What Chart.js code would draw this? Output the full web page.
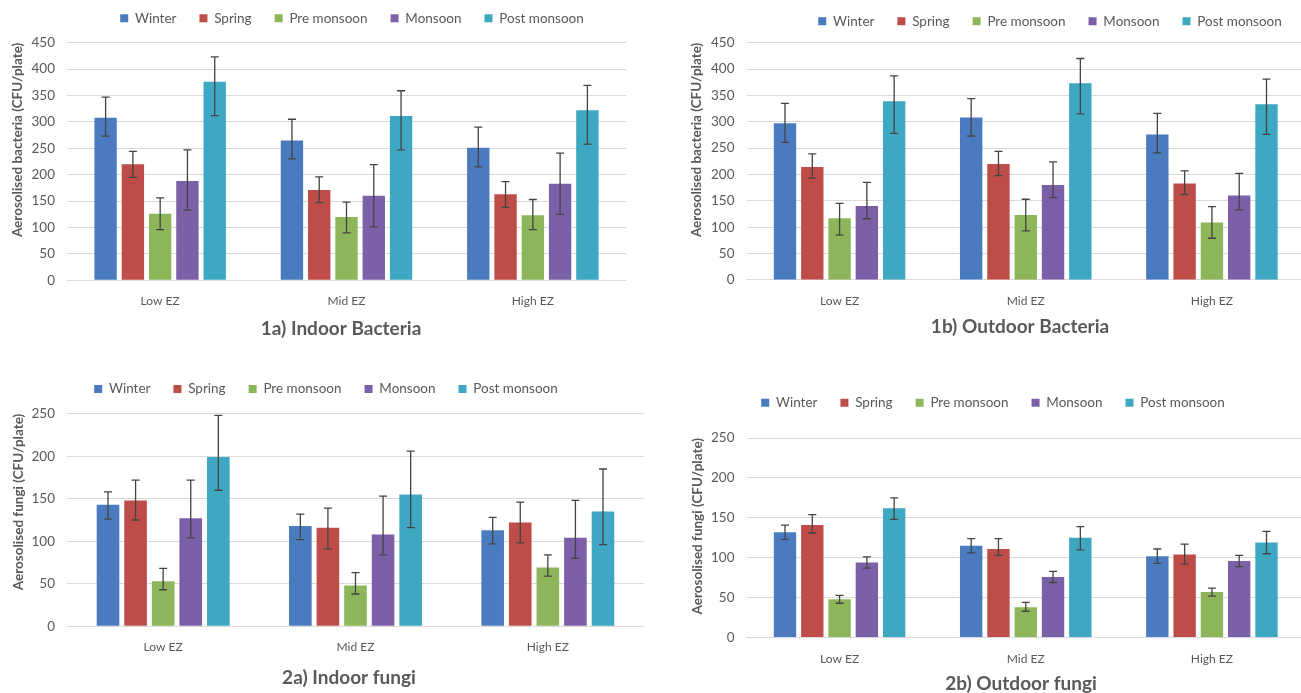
<!DOCTYPE html>
<html>
<head>
<meta charset="utf-8">
<script src="https://cdn.jsdelivr.net/npm/chart.js@4.4.0/dist/chart.umd.min.js"></script>
<style>
  html, body { margin: 0; padding: 0; background: #fff; }
  body { width: 1301px; height: 693px; overflow: hidden; position: relative; }
  canvas { position: absolute; }
</style>
</head>
<body>
<canvas id="c1a"></canvas>
<canvas id="c1b"></canvas>
<canvas id="c2a"></canvas>
<canvas id="c2b"></canvas>
<script>
// categories / series
const zones = ['Low EZ', 'Mid EZ', 'High EZ'];
const seasons = ['Winter', 'Spring', 'Pre monsoon', 'Monsoon', 'Post monsoon'];

// tick labels
const bacteriaTicks = [0, 50, 100, 150, 200, 250, 300, 350, 400, 450];
const fungiTicks = [0, 50, 100, 150, 200, 250];

// 1a) Indoor bacteria - one row per season, columns Low/Mid/High EZ
const indoorBacteria = [[308, 265, 251], [220, 171, 163], [126, 120, 123], [188, 160, 183], [376, 311, 322]];
const indoorBacteriaErrUp = [[39, 40, 39], [24, 25, 24], [30, 28, 30], [59, 59, 58], [47, 48, 47]];
const indoorBacteriaErrDown = [[35, 35, 36], [25, 24, 25], [30, 30, 27], [55, 59, 58], [64, 64, 64]];

// 1b) Outdoor bacteria
const outdoorBacteria = [[297, 308, 276], [214, 220, 183], [117, 123, 109], [140, 180, 160], [339, 373, 333]];
const outdoorBacteriaErrUp = [[38, 36, 40], [25, 24, 24], [28, 30, 30], [45, 44, 42], [48, 47, 48]];
const outdoorBacteriaErrDown = [[36, 35, 35], [21, 22, 21], [32, 30, 30], [24, 24, 27], [61, 58, 57]];

// 2a) Indoor fungi
const indoorFungi = [[143, 118, 113], [148, 116, 122], [53, 48, 69], [127, 108, 104], [199, 155, 135]];
const indoorFungiErrUp = [[15, 14, 15], [24, 23, 24], [15, 15, 15], [45, 45, 44], [49, 51, 50]];
const indoorFungiErrDown = [[17, 16, 16], [23, 25, 24], [10, 10, 10], [23, 24, 24], [39, 39, 39]];

// 2b) Outdoor fungi
const outdoorFungi = [[132, 115, 102], [141, 111, 104], [48, 38, 57], [94, 76, 96], [162, 125, 119]];
const outdoorFungiErrUp = [[9, 9, 9], [13, 13, 13], [5, 6, 5], [7, 7, 7], [13, 14, 14]];
const outdoorFungiErrDown = [[9, 9, 9], [10, 8, 12], [5, 5, 5], [7, 7, 7], [14, 15, 14]];

const colors = ['#4a7bbf', '#be4c49', '#8db65a', '#7b5fa7', '#3ea8c3'];
const grey = '#595959';
const FONT = 'Lato, "Liberation Sans", sans-serif';

// draws the whiskers from errUp/errDown stored on each dataset
const errorBars = {
    id: 'errorBars',
    afterDatasetsDraw(chart) {
        const ctx = chart.ctx;
        const y = chart.scales.y;
        chart.data.datasets.forEach((ds, i) => {
            chart.getDatasetMeta(i).data.forEach((bar, j) => {
                const v = ds.data[j];
                const top = y.getPixelForValue(v + ds.errUp[j]);
                const bot = y.getPixelForValue(v - ds.errDown[j]);
                ctx.save();
                ctx.strokeStyle = '#444';
                ctx.lineWidth = 1.3;
                ctx.beginPath();
                ctx.moveTo(bar.x, top); ctx.lineTo(bar.x, bot);
                ctx.moveTo(bar.x - 4, top); ctx.lineTo(bar.x + 4, top);
                ctx.moveTo(bar.x - 4, bot); ctx.lineTo(bar.x + 4, bot);
                ctx.stroke();
                ctx.restore();
            });
        });
    }
};

// moves legend and title to where they sit in the original figure
const nudge = {
    id: 'nudge',
    afterUpdate(chart, args, opts) {
        const lg = chart.legend;
        const hb = lg.legendHitBoxes;
        if (hb && hb.length) {
            const first = hb[0], last = hb[hb.length - 1];
            const dx = opts.legendX - (first.left + last.left + last.width) / 2;
            const dy = opts.legendY - (first.top + first.height / 2);
            lg.left += dx; lg.right += dx;
            lg.top += dy; lg.bottom = lg.top + 70;   // keep items inside the clip box
            hb.forEach(h => { h.left += dx; h.top += dy; });
        }
        const t = chart.titleBlock;
        const tdx = opts.titleX - (t.left + t.right) / 2;
        t.left += tdx; t.right += tdx;
    }
};

function makeChart(id, g, values, errUp, errDown, ticks, yTitle, title) {
    const xh = 36, titleLine = 19 * 1.2;
    const legendH = 30;
    const pl = g.yTitleX - g.left - 12.1;
    const yw = g.plotL - g.left - pl;
    const pt = g.plotT - g.top - legendH;
    const titlePadTop = g.titleCy - g.plotB - xh - titleLine / 2;
    const W = Math.round(g.plotR - g.left);
    const H = Math.round(g.plotB - g.top + xh + titlePadTop + titleLine);

    const canvas = document.getElementById(id);
    canvas.width = W; canvas.height = H;
    canvas.style.left = g.left + 'px';
    canvas.style.top = g.top + 'px';
    canvas.style.width = W + 'px';
    canvas.style.height = H + 'px';

    new Chart(canvas.getContext('2d'), {
        type: 'bar',
        data: {
            labels: zones,
            datasets: seasons.map((s, i) => ({
                label: s,
                data: values[i],
                errUp: errUp[i],
                errDown: errDown[i],
                backgroundColor: colors[i],
                borderWidth: 0,
                categoryPercentage: g.catPct,
                barPercentage: 0.82
            }))
        },
        options: {
            responsive: false,
            animation: false,
            layout: { padding: { left: pl, right: 0, top: pt, bottom: 0 } },
            plugins: {
                legend: {
                    position: 'top',
                    maxHeight: legendH,
                    labels: { boxWidth: 8, boxHeight: 8, padding: 23, color: grey, font: { family: FONT, size: 13.5 } }
                },
                title: {
                    display: true, position: 'bottom', text: title, color: grey,
                    font: { family: FONT, size: 19, weight: 'bold', lineHeight: 1.2 },
                    padding: { top: titlePadTop, bottom: 0 }
                },
                tooltip: { enabled: false },
                nudge: { legendX: g.legendCx - g.left, legendY: g.legendCy - g.top, titleX: g.titleCx - g.left }
            },
            scales: {
                x: {
                    grid: { display: false },
                    border: { display: true, color: '#d9d9d9', width: 1 },
                    ticks: { color: grey, font: { family: FONT, size: 12 }, padding: 6 },
                    afterFit: s => { s.height = xh; }
                },
                y: {
                    min: ticks[0],
                    max: ticks[ticks.length - 1],
                    ticks: { stepSize: ticks[1] - ticks[0], color: grey, font: { family: FONT, size: 13.5 }, padding: 12 },
                    grid: { color: '#d9d9d9', drawTicks: false },
                    border: { display: false },
                    title: { display: true, align: 'end', text: yTitle, color: grey, font: { family: FONT, size: 13.5, weight: 'bold' }, padding: { top: 4, bottom: 4 } },
                    afterFit: s => { s.width = yw; }
                }
            }
        },
        plugins: [errorBars, nudge]
    });
}

makeChart('c1a',
    { left: 0, top: 0, plotL: 67, plotR: 626, plotT: 42.7, plotB: 280, yTitleX: 18, legendCx: 352, legendCy: 18.3, titleCx: 341, titleCy: 328.3, catPct: 0.732 },
    indoorBacteria, indoorBacteriaErrUp, indoorBacteriaErrDown, bacteriaTicks,
    'Aerosolised bacteria (CFU/plate)', '1a) Indoor Bacteria');

makeChart('c1b',
    { left: 650, top: 0, plotL: 746.5, plotR: 1305, plotT: 42.7, plotB: 280, yTitleX: 697, legendCx: 1050, legendCy: 21.3, titleCx: 1020, titleCy: 326.7, catPct: 0.733 },
    outdoorBacteria, outdoorBacteriaErrUp, outdoorBacteriaErrDown, bacteriaTicks,
    'Aerosolised bacteria (CFU/plate)', '1b) Outdoor Bacteria');

makeChart('c2a',
    { left: 0, top: 345, plotL: 67, plotR: 644, plotT: 413.7, plotB: 626.7, yTitleX: 19, legendCx: 326, legendCy: 389, titleCx: 349, titleCy: 678, catPct: 0.717 },
    indoorFungi, indoorFungiErrUp, indoorFungiErrDown, fungiTicks,
    'Aerosolised fungi (CFU/plate)', '2a) Indoor fungi');

makeChart('c2b',
    { left: 650, top: 345, plotL: 746.5, plotR: 1305, plotT: 438, plotB: 637.3, yTitleX: 698, legendCx: 993, legendCy: 402.7, titleCx: 1021, titleCy: 683.3, catPct: 0.733 },
    outdoorFungi, outdoorFungiErrUp, outdoorFungiErrDown, fungiTicks,
    'Aerosolised fungi (CFU/plate)', '2b) Outdoor fungi');
</script>
</body>
</html>
